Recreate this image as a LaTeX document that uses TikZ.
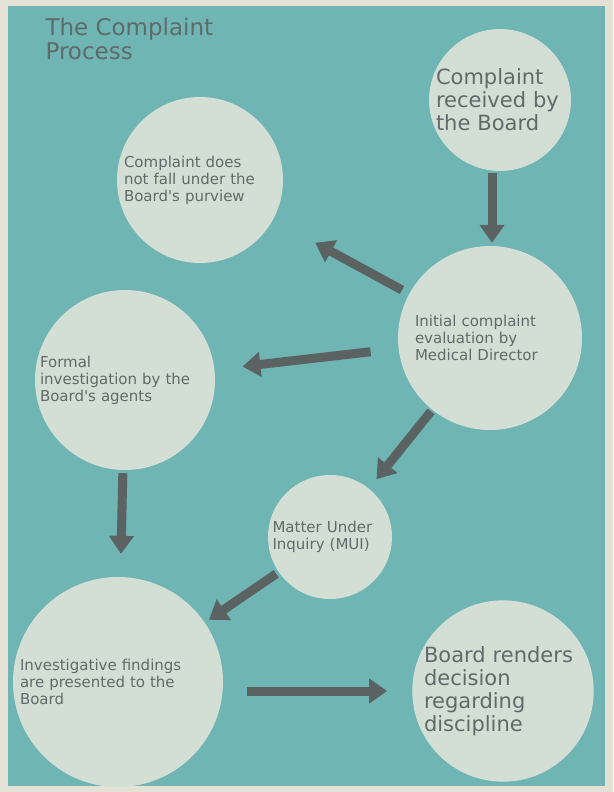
\documentclass[tikz,border=0pt]{standalone}
\usepackage{fontspec}
\setmainfont{DejaVu Sans}
\usetikzlibrary{arrows.meta}
\definecolor{paper}{HTML}{6FB5B3}
\definecolor{frame}{HTML}{E4E2D6}
\definecolor{bubble}{HTML}{D3DFD5}
\definecolor{ink}{HTML}{5F6B6A}
\definecolor{arrowgray}{HTML}{5A6362}
\newcommand{\q}{\textquotesingle}
\tikzset{
  bubble/.style={circle,fill=bubble,inner sep=0pt,text=ink,align=left,font=\fontsize{15}{17}\selectfont},
  bigtext/.style={font=\fontsize{21}{23}\selectfont},
  flow/.style={draw=arrowgray,line width=9pt,-{Triangle[width=24pt,length=18pt]}}
}
\begin{document}
\begin{tikzpicture}[x=1pt,y=-1pt]
  \useasboundingbox (0,0) rectangle (613,792);
  \fill[frame] (0,0) rectangle (613,792);
  \fill[paper] (8,6) rectangle (605,786);
  \node[anchor=north west,text=ink,align=left,font=\fontsize{23}{24}\selectfont] (title) at (42,14) {The Complaint\\Process};
  % circles
  \node[bubble,bigtext,minimum size=140pt,text width=128pt] (received) at (500,100) {Complaint\\received by\\the Board};
  \node[bubble,minimum size=166pt,text width=152pt] (outside) at (200,180) {Complaint does\\not fall under the\\Board\q s purview};
  \node[bubble,minimum size=184pt,text width=150pt] (initial) at (490,338) {Initial complaint\\evaluation by\\Medical Director};
  \node[bubble,minimum size=180pt,text width=170pt] (formal) at (125,380) {Formal\\investigation by the\\Board\q s agents};
  \node[bubble,minimum size=124pt,text width=115pt] (mui) at (330,537) {Matter Under\\Inquiry (MUI)};
  \node[bubble,minimum size=210pt,text width=196pt] (findings) at (118,682) {Investigative findings\\are presented to the\\Board};
  \node[bubble,bigtext,minimum size=176pt,text width=158pt] (renders) at (503,691) {Board renders\\decision\\regarding\\discipline};
  % arrows
  \draw[flow,shorten <=2pt,shorten >=3pt] (received.south -| 492,0) -- (initial.north -| 492,0);
  \draw[flow,shorten <=8pt,shorten >=48pt] (initial) -- (outside);
  \draw[flow,shorten <=28pt,shorten >=28pt] (initial) -- (formal);
  \draw[flow,shorten <=2pt,shorten >=12pt] (initial) -- (mui);
  \draw[flow,shorten <=3pt,shorten >=23pt] (formal) -- (findings);
  \draw[flow,shorten <=3pt,shorten >=5pt] (mui) -- (findings);
  \draw[flow,shorten <=24pt,shorten >=25pt] (findings.east |- renders) -- (renders.west);
\end{tikzpicture}
\end{document}
